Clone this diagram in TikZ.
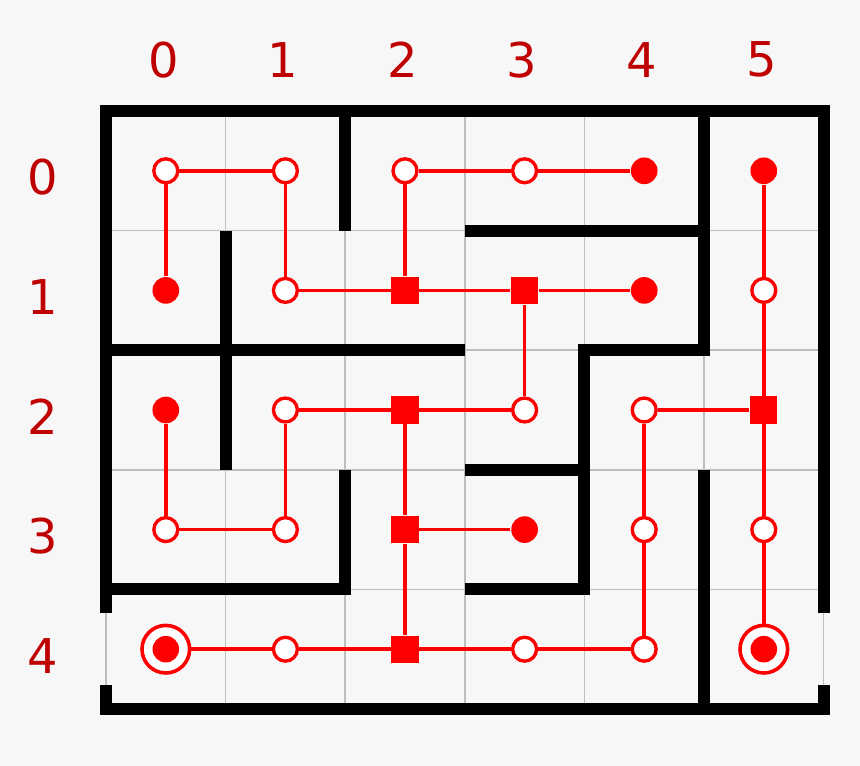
\documentclass[tikz,border=0pt]{standalone}
\usepackage{fontspec}
\setmainfont{DejaVu Sans}
\usetikzlibrary{backgrounds}
\definecolor{canvas}{HTML}{F7F7F7}
\definecolor{gridgray}{HTML}{BEBEBE}
\definecolor{labelred}{HTML}{BF0000}
\definecolor{pathred}{HTML}{FF0000}

\tikzset{
  wall/.style={line width=0.1cm, line join=miter, black},
  gridline/.style={gridgray, line width=0.36pt},
  link/.style={pathred, line width=0.03cm},
  openpt/.style={circle, draw=pathred, fill=white, line width=0.028cm, minimum size=0.2cm, inner sep=0pt},
  dotpt/.style={circle, fill=pathred, minimum size=0.223cm, inner sep=0pt},
  sqpt/.style={rectangle, fill=pathred, minimum size=0.226cm, inner sep=0pt},
  goalpt/.style={circle, draw=pathred, fill=white, line width=0.03cm, minimum size=0.398cm, inner sep=0pt,
    path picture={\fill[pathred] (path picture bounding box.center) circle (0.111cm);}},
  idx/.style={font=\fontsize{11.4}{13}\selectfont, text=labelred, inner sep=0pt}
}

\begin{document}
\begin{tikzpicture}[x=1cm, y=-1cm]
% Canvas and grid
\begin{scope}[on background layer]
\fill[canvas] (-0.8863,-0.9281) rectangle (6.3043,5.4766);
\draw[gridline] (0,0) grid (6,5);
\end{scope}
\useasboundingbox (-0.8863,-0.9281) rectangle (6.3043,5.4766);

% Column and row indices
\node[idx] (col0) at (0.48,-0.429) {0};
\node[idx] (col1) at (1.48,-0.429) {1};
\node[idx] (col2) at (2.48,-0.429) {2};
\node[idx] (col3) at (3.48,-0.429) {3};
\node[idx] (col4) at (4.48,-0.429) {4};
\node[idx] (col5) at (5.48,-0.429) {5};
\node[idx] (row0) at (-0.527,0.555) {0};
\node[idx] (row1) at (-0.527,1.555) {1};
\node[idx] (row2) at (-0.527,2.555) {2};
\node[idx] (row3) at (-0.527,3.555) {3};
\node[idx] (row4) at (-0.527,4.555) {4};

% Outer frame, open at both ends of row 4
\draw[wall] (0,4.2) -- (0,0) -- (6,0) -- (6,4.2);
\draw[wall] (0,4.8) -- (0,5) -- (6,5) -- (6,4.8);
% Inner walls
\draw[wall] (2,0) -- (2,1);
\draw[wall] (3,1) -- (5,1);
\draw[wall] (5,0) -- (5,2) -- (4,2) -- (4,4) -- (3,4);
\draw[wall] (3,3) -- (4,3);
\draw[wall] (1,1) -- (1,3);
\draw[wall] (0,2) -- (3,2);
\draw[wall] (2,3) -- (2,4) -- (0,4);
\draw[wall] (5,3) -- (5,5);

% Cells, row 0
\node[openpt] (n00) at (0.5,0.5) {};
\node[openpt] (n10) at (1.5,0.5) {};
\node[openpt] (n20) at (2.5,0.5) {};
\node[openpt] (n30) at (3.5,0.5) {};
\node[dotpt]  (n40) at (4.5,0.5) {};
\node[dotpt]  (n50) at (5.5,0.5) {};
% row 1
\node[dotpt]  (n01) at (0.5,1.5) {};
\node[openpt] (n11) at (1.5,1.5) {};
\node[sqpt]   (n21) at (2.5,1.5) {};
\node[sqpt]   (n31) at (3.5,1.5) {};
\node[dotpt]  (n41) at (4.5,1.5) {};
\node[openpt] (n51) at (5.5,1.5) {};
% row 2
\node[dotpt]  (n02) at (0.5,2.5) {};
\node[openpt] (n12) at (1.5,2.5) {};
\node[sqpt]   (n22) at (2.5,2.5) {};
\node[openpt] (n32) at (3.5,2.5) {};
\node[openpt] (n42) at (4.5,2.5) {};
\node[sqpt]   (n52) at (5.5,2.5) {};
% row 3
\node[openpt] (n03) at (0.5,3.5) {};
\node[openpt] (n13) at (1.5,3.5) {};
\node[sqpt]   (n23) at (2.5,3.5) {};
\node[dotpt]  (n33) at (3.5,3.5) {};
\node[openpt] (n43) at (4.5,3.5) {};
\node[openpt] (n53) at (5.5,3.5) {};
% row 4
\node[goalpt] (n04) at (0.5,4.5) {};
\node[openpt] (n14) at (1.5,4.5) {};
\node[sqpt]   (n24) at (2.5,4.5) {};
\node[openpt] (n34) at (3.5,4.5) {};
\node[openpt] (n44) at (4.5,4.5) {};
\node[goalpt] (n54) at (5.5,4.5) {};

% Links
\begin{scope}[on background layer]
\draw[link] (n01) -- (n00) -- (n10) -- (n11) -- (n21) -- (n31) -- (n41);
\draw[link] (n40) -- (n30) -- (n20) -- (n21);
\draw[link] (n31) -- (n32) -- (n22) -- (n12) -- (n13) -- (n03) -- (n02);
\draw[link] (n22) -- (n23) -- (n24);
\draw[link] (n23) -- (n33);
\draw[link] (n04) -- (n14) -- (n24) -- (n34) -- (n44) -- (n43) -- (n42) -- (n52);
\draw[link] (n50) -- (n51) -- (n52) -- (n53) -- (n54);
\end{scope}
\end{tikzpicture}
\end{document}
